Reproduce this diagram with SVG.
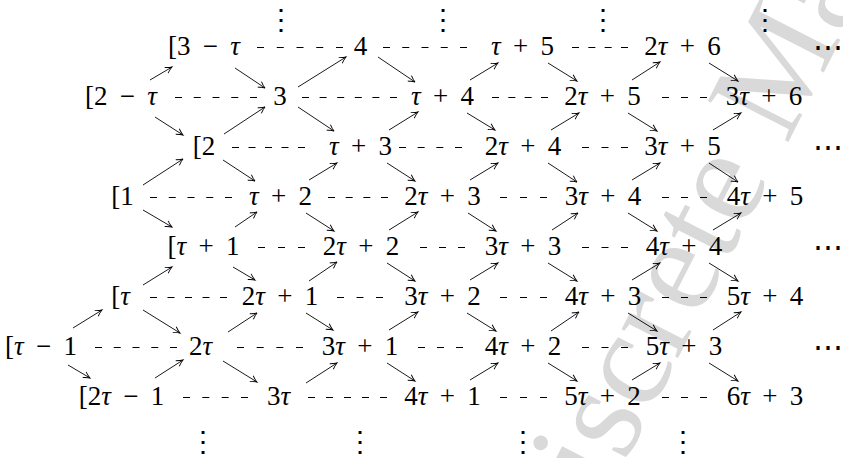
<svg xmlns="http://www.w3.org/2000/svg" width="843" height="458" viewBox="0 0 843 458">
<defs>
<style>
.t{font-family:'Liberation Serif','DejaVu Serif',serif;font-size:27px;word-spacing:5.5px;text-anchor:middle;fill:#000}
.i{font-style:italic}
.v{font-family:'DejaVu Serif',serif;font-size:28px;text-anchor:middle;fill:#000}
.h{font-family:'DejaVu Serif',serif;font-size:30px;text-anchor:start;fill:#000}
.wm{font-family:'Liberation Serif',serif;font-size:138px;fill:#d9d9d9}
.ar line{stroke:#000;stroke-width:0.9;marker-end:url(#ah)}
.ds line{stroke:#000;stroke-width:1.1}
</style>
<marker id="ah" viewBox="-8 -5 10 10" refX="0" refY="0" markerWidth="10" markerHeight="10" markerUnits="userSpaceOnUse" orient="auto">
<path d="M-6.5,-3.3 Q-2.5,-0.7 0,0 Q-2.5,0.7 -6.5,3.3" fill="none" stroke="#000" stroke-width="0.9"/>
</marker>
</defs>
<rect width="843" height="458" fill="#fff"/>
<text class="wm" transform="translate(562,586) rotate(-63)">Discrete Mathematics</text>

<g id="connectors">
<g class="ds">
<line x1="257" y1="47.5" x2="343" y2="47.5" stroke-dasharray="7 12.75"/>
<line x1="383" y1="47.5" x2="467" y2="47.5" stroke-dasharray="7 12.25"/>
<line x1="572" y1="47.5" x2="628" y2="47.5" stroke-dasharray="7 9.33"/>
<line x1="175" y1="97.5" x2="257" y2="97.5" stroke-dasharray="7 11.75"/>
<line x1="302" y1="97.5" x2="397" y2="97.5" stroke-dasharray="7 10.6"/>
<line x1="492" y1="97.5" x2="548" y2="97.5" stroke-dasharray="7 9.33"/>
<line x1="662" y1="97.5" x2="707" y2="97.5" stroke-dasharray="7 12"/>
<line x1="232" y1="147.5" x2="305" y2="147.5" stroke-dasharray="7 9.5"/>
<line x1="399" y1="147.5" x2="462" y2="147.5" stroke-dasharray="7 11.67"/>
<line x1="582" y1="147.5" x2="628" y2="147.5" stroke-dasharray="7 12.5"/>
<line x1="150" y1="197.5" x2="232" y2="197.5" stroke-dasharray="7 11.75"/>
<line x1="328" y1="197.5" x2="388" y2="197.5" stroke-dasharray="7 10.67"/>
<line x1="500" y1="197.5" x2="547" y2="197.5" stroke-dasharray="7 13"/>
<line x1="662" y1="197.5" x2="707" y2="197.5" stroke-dasharray="7 12"/>
<line x1="258" y1="247.5" x2="305" y2="247.5" stroke-dasharray="7 13"/>
<line x1="420" y1="247.5" x2="465" y2="247.5" stroke-dasharray="7 12"/>
<line x1="582" y1="247.5" x2="628" y2="247.5" stroke-dasharray="7 12.5"/>
<line x1="150" y1="297.5" x2="227" y2="297.5" stroke-dasharray="7 10.5"/>
<line x1="337" y1="297.5" x2="383" y2="297.5" stroke-dasharray="7 12.5"/>
<line x1="500" y1="297.5" x2="547" y2="297.5" stroke-dasharray="7 13"/>
<line x1="662" y1="297.5" x2="707" y2="297.5" stroke-dasharray="7 12"/>
<line x1="95" y1="347.5" x2="177" y2="347.5" stroke-dasharray="7 11.75"/>
<line x1="237" y1="347.5" x2="303" y2="347.5" stroke-dasharray="7 12.67"/>
<line x1="418" y1="347.5" x2="463" y2="347.5" stroke-dasharray="7 12"/>
<line x1="582" y1="347.5" x2="628" y2="347.5" stroke-dasharray="7 12.5"/>
<line x1="183" y1="397.5" x2="248" y2="397.5" stroke-dasharray="7 12.33"/>
<line x1="308" y1="397.5" x2="387" y2="397.5" stroke-dasharray="7 11"/>
<line x1="500" y1="397.5" x2="547" y2="397.5" stroke-dasharray="7 13"/>
<line x1="662" y1="397.5" x2="707" y2="397.5" stroke-dasharray="7 12"/>
</g>
<g class="ar">
<line x1="150" y1="80" x2="172" y2="67"/>
<line x1="235" y1="68" x2="265" y2="88"/>
<line x1="298" y1="87" x2="346" y2="57"/>
<line x1="378" y1="57" x2="415" y2="82"/>
<line x1="470" y1="80" x2="498" y2="63"/>
<line x1="548" y1="63" x2="577" y2="81"/>
<line x1="632" y1="80" x2="660" y2="62"/>
<line x1="709" y1="63" x2="738" y2="81"/>
<line x1="155" y1="117" x2="183" y2="135"/>
<line x1="224" y1="134" x2="265" y2="107"/>
<line x1="298" y1="107" x2="334" y2="131"/>
<line x1="389" y1="130" x2="418" y2="112"/>
<line x1="467" y1="113" x2="495" y2="130"/>
<line x1="551" y1="130" x2="579" y2="113"/>
<line x1="628" y1="113" x2="657" y2="131"/>
<line x1="713" y1="130" x2="741" y2="113"/>
<line x1="143" y1="185" x2="183" y2="159"/>
<line x1="223" y1="160" x2="255" y2="181"/>
<line x1="309" y1="180" x2="337" y2="163"/>
<line x1="387" y1="163" x2="415" y2="181"/>
<line x1="470" y1="180" x2="498" y2="163"/>
<line x1="548" y1="163" x2="577" y2="182"/>
<line x1="632" y1="180" x2="660" y2="163"/>
<line x1="709" y1="163" x2="738" y2="182"/>
<line x1="143" y1="210" x2="172" y2="227"/>
<line x1="235" y1="227" x2="257" y2="212"/>
<line x1="306" y1="213" x2="334" y2="231"/>
<line x1="389" y1="230" x2="418" y2="212"/>
<line x1="468" y1="213" x2="496" y2="231"/>
<line x1="552" y1="230" x2="578" y2="213"/>
<line x1="628" y1="213" x2="657" y2="231"/>
<line x1="713" y1="230" x2="741" y2="213"/>
<line x1="143" y1="285" x2="172" y2="267"/>
<line x1="233" y1="267" x2="255" y2="280"/>
<line x1="309" y1="281" x2="337" y2="262"/>
<line x1="387" y1="263" x2="415" y2="281"/>
<line x1="470" y1="280" x2="498" y2="263"/>
<line x1="548" y1="263" x2="577" y2="281"/>
<line x1="632" y1="280" x2="660" y2="263"/>
<line x1="709" y1="263" x2="738" y2="281"/>
<line x1="73" y1="328" x2="102" y2="310"/>
<line x1="143" y1="310" x2="180" y2="333"/>
<line x1="228" y1="332" x2="257" y2="313"/>
<line x1="306" y1="313" x2="333" y2="330"/>
<line x1="389" y1="330" x2="418" y2="312"/>
<line x1="467" y1="313" x2="496" y2="331"/>
<line x1="551" y1="331" x2="579" y2="312"/>
<line x1="628" y1="313" x2="657" y2="331"/>
<line x1="713" y1="330" x2="741" y2="312"/>
<line x1="68" y1="365" x2="90" y2="378"/>
<line x1="155" y1="378" x2="183" y2="360"/>
<line x1="223" y1="361" x2="257" y2="382"/>
<line x1="306" y1="383" x2="337" y2="363"/>
<line x1="387" y1="363" x2="415" y2="381"/>
<line x1="470" y1="380" x2="498" y2="363"/>
<line x1="548" y1="363" x2="577" y2="381"/>
<line x1="632" y1="380" x2="660" y2="363"/>
<line x1="709" y1="363" x2="738" y2="381"/>
</g>
</g>

<g id="n-3mt"><text class="t" x="204" y="55">[3 − <tspan class="i">τ</tspan></text></g>
<g id="n-4"><text class="t" x="360.5" y="55">4</text></g>
<g id="n-t5"><text class="t" x="522.5" y="55"><tspan class="i">τ</tspan> + 5</text></g>
<g id="n-2t6"><text class="t" x="682.5" y="55">2<tspan class="i">τ</tspan> + 6</text></g>

<g id="n-2mt"><text class="t" x="121" y="105">[2 − <tspan class="i">τ</tspan></text></g>
<g id="n-3"><text class="t" x="280" y="105">3</text></g>
<g id="n-t4"><text class="t" x="442.5" y="105"><tspan class="i">τ</tspan> + 4</text></g>
<g id="n-2t5"><text class="t" x="602.5" y="105">2<tspan class="i">τ</tspan> + 5</text></g>
<g id="n-3t6"><text class="t" x="764" y="105">3<tspan class="i">τ</tspan> + 6</text></g>

<g id="n-2"><text class="t" x="204" y="155">[2</text></g>
<g id="n-t3"><text class="t" x="360.5" y="155"><tspan class="i">τ</tspan> + 3</text></g>
<g id="n-2t4"><text class="t" x="523" y="155">2<tspan class="i">τ</tspan> + 4</text></g>
<g id="n-3t5"><text class="t" x="682.5" y="155">3<tspan class="i">τ</tspan> + 5</text></g>

<g id="n-1"><text class="t" x="122.5" y="205">[1</text></g>
<g id="n-t2"><text class="t" x="280.5" y="205"><tspan class="i">τ</tspan> + 2</text></g>
<g id="n-2t3"><text class="t" x="442.5" y="205">2<tspan class="i">τ</tspan> + 3</text></g>
<g id="n-3t4"><text class="t" x="603" y="205">3<tspan class="i">τ</tspan> + 4</text></g>
<g id="n-4t5"><text class="t" x="765" y="205">4<tspan class="i">τ</tspan> + 5</text></g>

<g id="n-t1"><text class="t" x="203.5" y="255">[<tspan class="i">τ</tspan> + 1</text></g>
<g id="n-2t2"><text class="t" x="361" y="255">2<tspan class="i">τ</tspan> + 2</text></g>
<g id="n-3t3"><text class="t" x="523" y="255">3<tspan class="i">τ</tspan> + 3</text></g>
<g id="n-4t4"><text class="t" x="684" y="255">4<tspan class="i">τ</tspan> + 4</text></g>

<g id="n-t"><text class="t" x="120.5" y="305">[<tspan class="i">τ</tspan></text></g>
<g id="n-2t1"><text class="t" x="280" y="305">2<tspan class="i">τ</tspan> + 1</text></g>
<g id="n-3t2"><text class="t" x="442.5" y="305">3<tspan class="i">τ</tspan> + 2</text></g>
<g id="n-4t3"><text class="t" x="603" y="305">4<tspan class="i">τ</tspan> + 3</text></g>
<g id="n-5t4"><text class="t" x="765" y="305">5<tspan class="i">τ</tspan> + 4</text></g>

<g id="n-tm1"><text class="t" x="41" y="355">[<tspan class="i">τ</tspan> − 1</text></g>
<g id="n-2t"><text class="t" x="200.5" y="355">2<tspan class="i">τ</tspan></text></g>
<g id="n-3t1"><text class="t" x="360" y="355">3<tspan class="i">τ</tspan> + 1</text></g>
<g id="n-4t2"><text class="t" x="523" y="355">4<tspan class="i">τ</tspan> + 2</text></g>
<g id="n-5t3"><text class="t" x="684" y="355">5<tspan class="i">τ</tspan> + 3</text></g>

<g id="n-2tm1"><text class="t" x="121.5" y="405">[2<tspan class="i">τ</tspan> − 1</text></g>
<g id="n-3t"><text class="t" x="278.5" y="405">3<tspan class="i">τ</tspan></text></g>
<g id="n-4t1"><text class="t" x="442.5" y="405">4<tspan class="i">τ</tspan> + 1</text></g>
<g id="n-5t2"><text class="t" x="602.5" y="405">5<tspan class="i">τ</tspan> + 2</text></g>
<g id="n-6t3"><text class="t" x="765" y="405">6<tspan class="i">τ</tspan> + 3</text></g>

<g id="ellipses">
<text class="v" x="281" y="29">⋮</text>
<text class="v" x="443" y="29">⋮</text>
<text class="v" x="603" y="29">⋮</text>
<text class="v" x="765" y="29">⋮</text>
<text class="v" x="203" y="451">⋮</text>
<text class="v" x="360" y="451">⋮</text>
<text class="v" x="523" y="451">⋮</text>
<text class="v" x="683" y="451">⋮</text>
<text class="h" x="813" y="57">⋯</text>
<text class="h" x="813" y="157">⋯</text>
<text class="h" x="813" y="257">⋯</text>
<text class="h" x="813" y="357">⋯</text>
</g>
</svg>
